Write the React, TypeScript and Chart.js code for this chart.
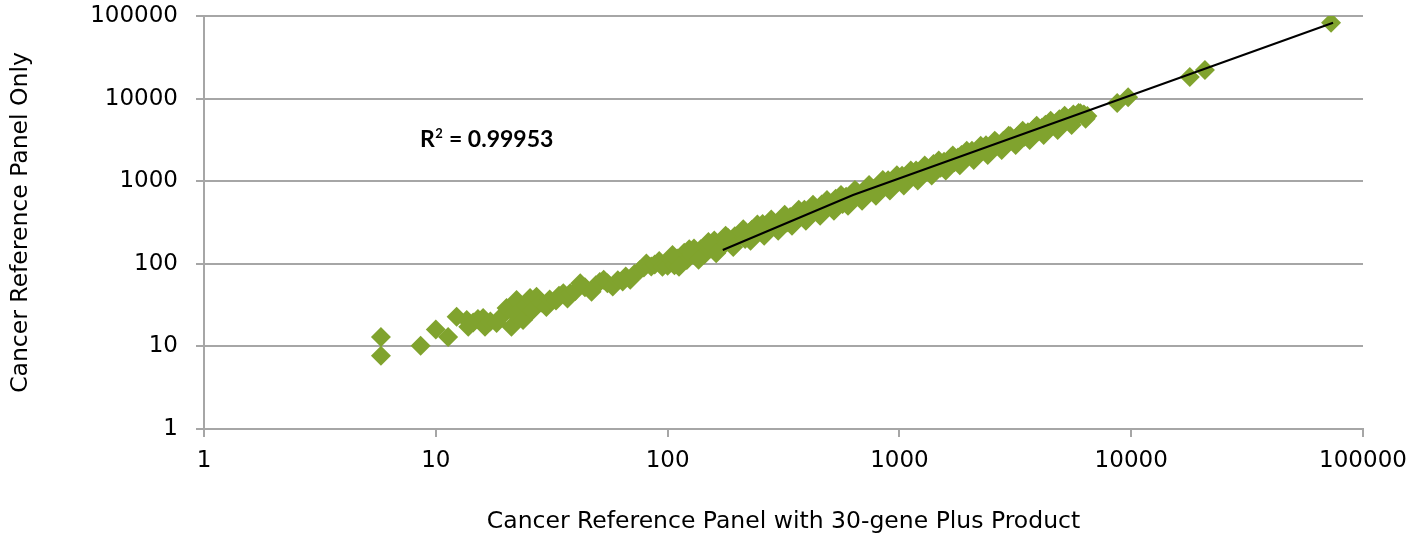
import React, { useEffect, useRef } from "react";
import { Chart, registerables } from "chart.js";

Chart.register(...registerables);

// Tick values on both log axes
const tickValues = [1, 10, 100, 1000, 10000, 100000];

// Scatter data: x = Cancer Reference Panel with 30-gene Plus Product, y = Cancer Reference Panel Only
const lowX = [5.8, 5.8, 8.6, 10, 11.3, 12.3, 13.6, 13.8, 14.5, 15.2, 16, 16.3, 17.2, 18.3, 19.5, 20.2, 21.2, 21.8, 22.3, 23, 23.8, 24.5, 25.5, 26, 27.2, 28.5, 30, 31, 33, 34, 35.5, 37, 38, 40, 42, 44, 47, 49, 51, 53, 55, 58, 61, 64, 66, 69, 72, 76, 79, 81, 85, 88, 92, 95];
const lowY = [13, 7.7, 10.2, 16, 13, 22.9, 20.9, 17.3, 19.5, 21.5, 22, 17.3, 20, 19.2, 24, 29.2, 17.3, 25, 36.5, 28, 20.9, 31, 38.5, 27, 40, 34, 30, 37, 36, 41, 44, 38, 44, 47, 58, 52, 46, 55, 60, 64, 58, 53, 63, 61, 70, 64, 75, 84, 90, 101, 93, 98, 108, 92];

const midX = [100, 103, 107, 110, 114, 118, 121, 126, 130, 134, 139, 144, 148, 153, 159, 165, 170, 176, 182, 188, 195, 202, 209, 216, 224, 231, 240, 248, 257, 265, 275, 284, 295, 305, 316, 327, 338, 350, 363, 375, 389, 402, 417, 431, 447, 462, 479, 496, 513, 531, 550, 569, 589, 610, 632, 654, 677, 701, 726, 751, 778, 805, 834, 863, 894, 925, 958, 992, 1027, 1063, 1100, 1139, 1180, 1221, 1265, 1309, 1356, 1403, 1453, 1504, 1558, 1613, 1670, 1728, 1790, 1853, 1918, 1986, 2056, 2129, 2204, 2282, 2363, 2446, 2533, 2622, 2715, 2811, 2910, 3013, 3120, 3230, 3344, 3462, 3585, 3711, 3843, 3978, 4119, 4265, 4415, 4571, 4733, 4900, 5073, 5253, 5438, 5630, 5829, 6035, 6249, 6470];
const midY = [95, 115, 96, 116, 111, 136, 111, 130, 153, 127, 150, 130, 166, 153, 191, 153, 180, 172, 207, 177, 215, 206, 242, 199, 235, 259, 230, 268, 303, 252, 286, 321, 274, 326, 363, 317, 368, 322, 407, 383, 451, 382, 442, 474, 420, 522, 479, 536, 492, 611, 567, 529, 648, 641, 613, 746, 677, 757, 690, 841, 809, 773, 926, 880, 1028, 897, 1025, 992, 1161, 1010, 1188, 1162, 1345, 1172, 1341, 1453, 1329, 1613, 1497, 1459, 1714, 1694, 1937, 1693, 1933, 2075, 1899, 2105, 2344, 2065, 2402, 2350, 2717, 2446, 2710, 2937, 2661, 3092, 3026, 3495, 3089, 3488, 3779, 3462, 3908, 3859, 4419, 4018, 4449, 4819, 4503, 5028, 5017, 5635, 5225, 5778, 5819, 6418, 6062, 6639, 6436, 6147];

const edgeX = [105, 112, 124, 136, 150, 162, 178, 192, 212, 228, 244, 261, 280, 300, 320, 344, 368, 395, 424, 455, 487, 522, 560, 600, 643, 690, 740, 792, 848, 910, 975, 1045, 1120, 1200, 1286, 1378, 1478, 1585, 1700, 1822, 1952, 2093, 2243, 2405, 2578, 2763, 2962, 3175, 3403, 3648, 3910, 4192, 4494, 4817, 5163, 5535, 5933, 6360];
const edgeY = [128, 92, 150, 112, 184, 134, 219, 160, 262, 190, 300, 218, 345, 252, 392, 288, 450, 332, 518, 383, 594, 440, 683, 505, 785, 580, 900, 668, 1035, 770, 1180, 885, 1350, 1020, 1545, 1175, 1775, 1350, 2040, 1560, 2340, 1800, 2690, 2070, 3090, 2380, 3550, 2740, 4080, 3150, 4700, 3620, 5390, 4160, 6200, 4780, 6700, 5700];

const highX = [8700, 9700, 17900, 20800, 72800];
const highY = [8850, 10400, 18300, 22200, 83000];

// Linear trendline as drawn
const trendX = [173, 631, 74300];
const trendY = [147, 681, 83000];

const rSquaredLabel = "0.99953";

const GREEN = "#80a32e";
const GRID = "#a6a6a6";
const FONT = "'DejaVu Sans'";

export default function App() {
  const canvasRef = useRef<HTMLCanvasElement | null>(null);

  useEffect(() => {
    if (!canvasRef.current) return;
    const allX = [...lowX, ...midX, ...edgeX, ...highX];
    const allY = [...lowY, ...midY, ...edgeY, ...highY];
    const points = allX.map((x, i) => ({ x, y: allY[i] }));
    const trend = trendX.map((x, i) => ({ x, y: trendY[i] }));

    const r2Plugin = {
      id: "r2label",
      afterDraw(chart: any) {
        const ctx = chart.ctx;
        ctx.save();
        ctx.fillStyle = "#000";
        ctx.textBaseline = "alphabetic";
        ctx.textAlign = "left";
        let x = 420;
        const y = 147;
        ctx.font = `bold 23px Lato`;
        ctx.fillText("R", x, y);
        x += ctx.measureText("R").width;
        ctx.font = `bold 13px Lato`;
        ctx.fillText("2", x + 0.5, y - 9);
        x += ctx.measureText("2").width + 1;
        ctx.font = `bold 23px Lato`;
        ctx.fillText(" = " + rSquaredLabel, x, y);
        ctx.restore();
      },
    };

    const powerTicks = (scale: any) => {
      scale.ticks = tickValues.map((v) => ({ value: v }));
    };

    const chart = new Chart(canvasRef.current, {
      type: "scatter",
      data: {
        datasets: [
          {
            type: "line",
            label: "Trend",
            data: trend,
            borderColor: "#000",
            borderWidth: 2,
            pointRadius: 0,
            fill: false,
            tension: 0,
          } as any,
          {
            label: "Data",
            data: points,
            pointStyle: "rectRot",
            pointRadius: 10,
            pointHoverRadius: 10,
            backgroundColor: GREEN,
            borderColor: GREEN,
            borderWidth: 0,
          },
        ],
      },
      options: {
        animation: false,
        responsive: false,
        devicePixelRatio: 1,
        layout: { padding: { left: 0, top: 0, right: 61, bottom: 0 } },
        plugins: { legend: { display: false }, tooltip: { enabled: false } },
        scales: {
          x: {
            type: "logarithmic",
            min: 1,
            max: 100000,
            afterBuildTicks: powerTicks,
            afterFit: (s: any) => {
              s.height = 108;
            },
            grid: {
              drawOnChartArea: false,
              drawTicks: true,
              tickLength: 8,
              color: GRID,
              lineWidth: 2,
            },
            border: { display: true, color: GRID, width: 2 },
            ticks: {
              autoSkip: false,
              maxRotation: 0,
              padding: 10,
              color: "#000",
              font: { family: FONT, size: 23 },
              callback: (v: any) => String(v),
            },
            title: {
              display: true,
              text: "Cancer Reference Panel with 30-gene Plus Product",
              color: "#000",
              font: { family: FONT, size: 23.5 },
              padding: { top: 0, bottom: 1 },
            },
          },
          y: {
            type: "logarithmic",
            min: 1,
            max: 100000,
            afterBuildTicks: powerTicks,
            afterFit: (s: any) => {
              s.width = 204;
              s.paddingTop = 16;
              s.paddingBottom = 0;
            },
            grid: {
              drawOnChartArea: true,
              drawTicks: true,
              tickLength: 8,
              color: GRID,
              lineWidth: 2,
            },
            border: { display: true, color: GRID, width: 2 },
            ticks: {
              autoSkip: false,
              padding: 18,
              color: "#000",
              font: { family: FONT, size: 23 },
              callback: (v: any) => String(v),
            },
            title: {
              display: true,
              text: "Cancer Reference Panel Only",
              color: "#000",
              font: { family: FONT, size: 23.5 },
              padding: { top: 7, bottom: 0 },
            },
          },
        },
      },
      plugins: [r2Plugin],
    });
    return () => chart.destroy();
  }, []);

  return (
    <div style={{ position: "absolute", left: 0, top: 0, width: 1424, height: 537, background: "#fff" }}>
      <canvas ref={canvasRef} width={1424} height={537} style={{ width: 1424, height: 537, display: "block" }} />
    </div>
  );
}
